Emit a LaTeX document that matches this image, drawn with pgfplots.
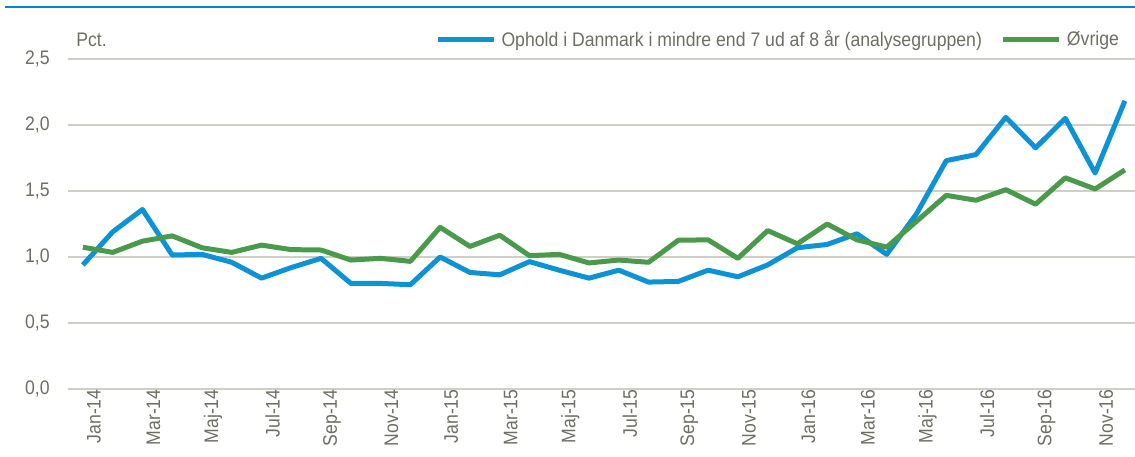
\documentclass[border=0pt]{standalone}
\usepackage{fontspec}
\setmainfont[FakeStretch=0.90]{Liberation Sans}
\usepackage{pgfplots}
\pgfplotsset{compat=1.18}
\definecolor{bl}{RGB}{13,146,214}
\definecolor{gr}{RGB}{74,154,76}
\definecolor{gridc}{RGB}{208,207,199}
\definecolor{txt}{RGB}{110,110,100}
\definecolor{rulec}{RGB}{0,136,204}
\pgfplotstableread{
x b g
0 0.94 1.074
1 1.19 1.035
2 1.36 1.12
3 1.015 1.16
4 1.02 1.07
5 0.96 1.035
6 0.84 1.09
7 0.92 1.056
8 0.99 1.053
9 0.80 0.977
10 0.80 0.99
11 0.79 0.967
12 1.0 1.225
13 0.883 1.08
14 0.865 1.165
15 0.965 1.01
16 0.90 1.02
17 0.84 0.955
18 0.90 0.977
19 0.81 0.96
20 0.815 1.127
21 0.90 1.13
22 0.85 0.99
23 0.94 1.20
24 1.07 1.10
25 1.095 1.25
26 1.176 1.13
27 1.02 1.075
28 1.327 1.27
29 1.73 1.467
30 1.776 1.43
31 2.058 1.51
32 1.827 1.40
33 2.05 1.60
34 1.636 1.515
35 2.183 1.66
}\datatab
\begin{document}
\begin{tikzpicture}
\useasboundingbox (0,0) rectangle (567.5pt,228pt);
\clip (0,0) rectangle (567.5pt,228pt);
\draw[rulec, line width=1.1pt] (2.5pt,224.5pt) -- (567.5pt,224.5pt);
\node[anchor=west, inner sep=0pt, text=txt, font=\fontsize{9.8}{11}\selectfont] at (38pt,208.3pt) {Pct.};
\begin{axis}[
  at={(34pt,33.5pt)}, anchor=south west,
  scale only axis, width=533.5pt, height=165pt,
  xmin=-0.5, xmax=35.34, ymin=0, ymax=2.5,
  ytick={0,0.5,1,1.5,2,2.5},
  xtick={0,2,...,34},
  xticklabels={Jan-14,Mar-14,Maj-14,Jul-14,Sep-14,Nov-14,Jan-15,Mar-15,Maj-15,Jul-15,Sep-15,Nov-15,Jan-16,Mar-16,Maj-16,Jul-16,Sep-16,Nov-16},
  major tick length=0pt,
  axis line style={draw=none},
  ymajorgrids, grid style={gridc, line width=0.65pt},
  tick label style={text=txt, font=\fontsize{9.8}{11}\selectfont},
  xticklabel style={rotate=90, anchor=east, inner sep=0pt, yshift=-5.5pt},
  yticklabel style={anchor=east, inner sep=0pt, xshift=-9pt,
    /pgf/number format/.cd, fixed, fixed zerofill, precision=1, use comma, assume math mode=true},
  legend columns=2,
  legend style={at={(axis description cs:0.99,1.058)}, anchor=east, draw=none, fill=none,
    inner sep=0pt, font=\fontsize{9.8}{11}\selectfont, text=txt,
    /tikz/every even column/.append style={column sep=7pt},
    nodes={inner sep=2.5pt}},
  legend image code/.code={\draw[#1] (0pt,0pt) -- (28pt,0pt);},
]
\addplot[bl, line width=2.5pt, line join=round] table[x=x,y=b] {\datatab};
\addlegendentry{Ophold i Danmark i mindre end 7 ud af 8 år (analysegruppen)}
\addplot[gr, line width=2.5pt, line join=round] table[x=x,y=g] {\datatab};
\addlegendentry{Øvrige}
\end{axis}
\end{tikzpicture}
\end{document}
